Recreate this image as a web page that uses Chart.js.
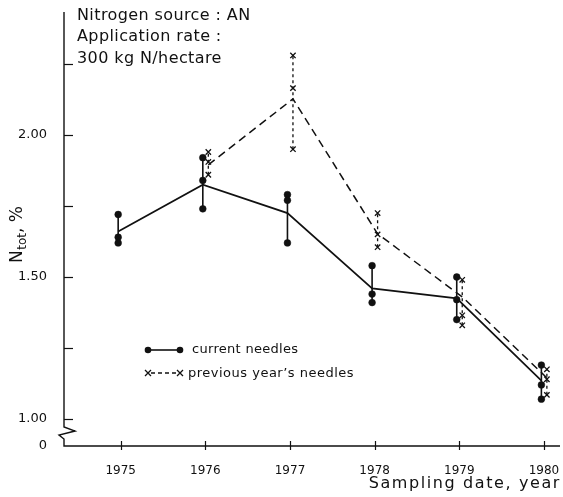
<!DOCTYPE html>
<html>
<head>
<meta charset="utf-8">
<script src="https://cdn.jsdelivr.net/npm/chart.js@4.4.1/dist/chart.umd.min.js"></script>
<style>
  html, body { margin: 0; padding: 0; background: #ffffff; }
  #wrap { width: 563px; height: 497px; }
</style>
</head>
<body>
<div id="wrap"><canvas id="c" width="563" height="497"></canvas></div>
<script>
// ---- data ----
const years = [1975, 1976, 1977, 1978, 1979, 1980];
const currentSamples = [
  [1.72, 1.64, 1.62],
  [1.92, 1.84, 1.74],
  [1.79, 1.77, 1.62],
  [1.54, 1.44, 1.41],
  [1.50, 1.42, 1.35],
  [1.19, 1.12, 1.07]
];
const currentMean = [1.66, 1.825, 1.725, 1.46, 1.425, 1.135];

const prevYears = [1976, 1977, 1978, 1979, 1980];
const previousSamples = [
  [1.94, 1.905, 1.86],
  [2.28, 2.165, 1.95],
  [1.725, 1.65, 1.605],
  [1.49, 1.365, 1.33],
  [1.175, 1.14, 1.085]
];
const previousMean = [1.895, 2.127, 1.652, 1.43, 1.145];

const xTickLabels = ['1975', '1976', '1977', '1978', '1979', '1980'];
const yTickValues = [1.00, 1.50, 2.00];
const yTickLabels = ['1.00', '1.50', '2.00'];
const yMinorTicks = [1.25, 1.75, 2.25];
const yBreakLabel = '0';

const seriesNames = ['current needles', "previous year\u2019s needles"];
const noteLines = ['Nitrogen source : AN', 'Application rate :', '300 kg N/hectare'];
const xTitle = 'Sampling date, year';

// ---- styling / layout constants ----
const INK = '#111111';
const FONT = '"DejaVu Sans", sans-serif';
const CUR_SHIFT = -0.03;
const PREV_SHIFT = 0.035;
const X_MIN = 1974.33, X_MAX = 1980.19;
const Y_MIN = 0.905, Y_MAX = 2.44;

// ---- build library datasets from the arrays ----
function samplePoints(yrs, samples, shift) {
  const pts = [];
  yrs.forEach((yr, i) => samples[i].forEach(v => pts.push({ x: yr + shift, y: v })));
  return pts;
}
function rangeSegments(yrs, samples, shift) {
  const pts = [];
  yrs.forEach((yr, i) => {
    pts.push({ x: yr + shift, y: Math.min(...samples[i]) });
    pts.push({ x: yr + shift, y: Math.max(...samples[i]) });
    pts.push({ x: yr + shift, y: null });
  });
  return pts;
}
function meanLine(yrs, means, shift) {
  return yrs.map((yr, i) => ({ x: yr + shift, y: means[i] }));
}

const datasets = [
  { label: 'cur range', data: rangeSegments(years, currentSamples, CUR_SHIFT),
    borderColor: INK, borderWidth: 1.6, pointRadius: 0, spanGaps: false, showLine: true },
  { label: 'prev range', data: rangeSegments(prevYears, previousSamples, PREV_SHIFT),
    borderColor: INK, borderWidth: 1.3, borderDash: [3, 3], pointRadius: 0, spanGaps: false, showLine: true },
  { label: seriesNames[0], data: meanLine(years, currentMean, CUR_SHIFT),
    borderColor: INK, borderWidth: 1.7, pointRadius: 0, showLine: true, tension: 0 },
  { label: seriesNames[1], data: meanLine(prevYears, previousMean, PREV_SHIFT),
    borderColor: INK, borderWidth: 1.5, borderDash: [8, 5], pointRadius: 0, showLine: true, tension: 0 },
  { label: 'cur pts', data: samplePoints(years, currentSamples, CUR_SHIFT),
    showLine: false, pointStyle: 'circle', pointRadius: 3.4, backgroundColor: INK, borderColor: INK, borderWidth: 0.5 },
  { label: 'prev pts', data: samplePoints(prevYears, previousSamples, PREV_SHIFT),
    showLine: false, pointStyle: 'crossRot', pointRadius: 3.8, borderColor: INK, borderWidth: 1.3 }
];

// ---- decorations: axes with break, titles, notes, legend ----
const decor = {
  id: 'decor',
  beforeDatasetsDraw(chart) {
    const ctx = chart.ctx, ca = chart.chartArea;
    const xs = chart.scales.x, ys = chart.scales.y;
    ctx.save();
    ctx.strokeStyle = INK; ctx.lineWidth = 1.4; ctx.setLineDash([]);
    const x0 = ca.left;
    const yOne = ys.getPixelForValue(1.0);
    const yBot = ca.bottom;
    ctx.beginPath();
    ctx.moveTo(x0, ca.top + 2);
    ctx.lineTo(x0, yOne + 8);
    ctx.lineTo(x0 + 11, yOne + 12);
    ctx.lineTo(x0 - 5, yOne + 16);
    ctx.lineTo(x0, yOne + 20);
    ctx.lineTo(x0, yBot);
    ctx.lineTo(ca.right, yBot);
    ctx.stroke();
    ctx.lineWidth = 1.2;
    [...yTickValues, ...yMinorTicks].forEach(v => {
      const p = Math.round(ys.getPixelForValue(v)) + 0.5;
      ctx.beginPath(); ctx.moveTo(x0, p); ctx.lineTo(x0 + 9, p); ctx.stroke();
    });
    years.forEach(yr => {
      const p = Math.round(xs.getPixelForValue(yr)) + 0.5;
      ctx.beginPath(); ctx.moveTo(p, yBot - 5); ctx.lineTo(p, yBot + 4); ctx.stroke();
    });
    ctx.restore();
  },
  afterDraw(chart) {
    const ctx = chart.ctx, ca = chart.chartArea;
    ctx.save();
    ctx.fillStyle = INK;
    ctx.font = '16px ' + FONT;
    ctx.textAlign = 'left'; ctx.textBaseline = 'alphabetic';
    ctx.letterSpacing = '0.4px';
    const noteBase = [19.5, 41, 62.5];
    noteLines.forEach((t, i) => ctx.fillText(t, 77, noteBase[i]));
    ctx.font = '16px ' + FONT;
    ctx.letterSpacing = '1.6px';
    ctx.textAlign = 'right';
    ctx.fillText(xTitle, ca.right + 1, 488);
    ctx.letterSpacing = '0px';
    ctx.textAlign = 'left';
    ctx.translate(22, 263);
    ctx.rotate(-Math.PI / 2);
    ctx.font = '17px ' + FONT;
    ctx.fillText('N', 0, 0);
    let w = ctx.measureText('N').width;
    ctx.font = '12px ' + FONT;
    ctx.fillText('tot', w + 0.5, 4);
    w += ctx.measureText('tot').width + 0.5;
    ctx.font = '17px ' + FONT;
    ctx.fillText(', %', w, 0);
    ctx.restore();

    ctx.save();
    ctx.strokeStyle = INK; ctx.fillStyle = INK;
    const lx0 = 148, lx1 = 180, r1 = 350, r2 = 373;
    ctx.lineWidth = 1.6;
    ctx.beginPath(); ctx.moveTo(lx0, r1); ctx.lineTo(lx1, r1); ctx.stroke();
    [lx0, lx1].forEach(x => { ctx.beginPath(); ctx.arc(x, r1, 3.3, 0, Math.PI * 2); ctx.fill(); });
    ctx.lineWidth = 1.3;
    ctx.setLineDash([4, 3]);
    ctx.beginPath(); ctx.moveTo(lx0 + 3, r2); ctx.lineTo(lx1 - 3, r2); ctx.stroke();
    ctx.setLineDash([]);
    [lx0, lx1].forEach(x => {
      ctx.beginPath();
      ctx.moveTo(x - 3, r2 - 3); ctx.lineTo(x + 3, r2 + 3);
      ctx.moveTo(x - 3, r2 + 3); ctx.lineTo(x + 3, r2 - 3);
      ctx.stroke();
    });
    ctx.font = '13px ' + FONT;
    ctx.textAlign = 'left'; ctx.textBaseline = 'middle';
    ctx.letterSpacing = '0.3px';
    ctx.fillText(seriesNames[0], 192, r1);
    ctx.letterSpacing = '0.5px';
    ctx.fillText(seriesNames[1], 188, r2 + 1);
    ctx.restore();
  }
};

function zeroPad(s) { s.paddingLeft = 0; s.paddingRight = 0; s.paddingTop = 0; s.paddingBottom = 0; }

new Chart(document.getElementById('c'), {
  type: 'scatter',
  data: { datasets },
  plugins: [decor],
  options: {
    responsive: false,
    animation: false,
    devicePixelRatio: 1,
    layout: { autoPadding: false, padding: { left: 0, right: 3, top: 10, bottom: 0 } },
    plugins: { legend: { display: false }, tooltip: { enabled: false } },
    scales: {
      x: {
        type: 'linear', min: X_MIN, max: X_MAX,
        afterBuildTicks: s => { s.ticks = years.map(v => ({ value: v })); },
        afterFit: s => { s.height = 51; zeroPad(s); },
        grid: { display: false },
        border: { display: false },
        ticks: {
          color: INK, padding: 10, maxRotation: 0, autoSkip: false,
          font: { family: FONT, size: 12 },
          callback: (v) => { const i = years.indexOf(v); return i >= 0 ? xTickLabels[i] : ''; }
        }
      },
      y: {
        type: 'linear', min: Y_MIN, max: Y_MAX,
        afterBuildTicks: s => { s.ticks = [Y_MIN, ...yTickValues].map(v => ({ value: v })); },
        afterFit: s => { s.width = 64; zeroPad(s); },
        grid: { display: false },
        border: { display: false },
        ticks: {
          color: INK, padding: 9, autoSkip: false,
          font: { family: FONT, size: 13 },
          callback: (v) => {
            if (v === Y_MIN) return yBreakLabel;
            const i = yTickValues.indexOf(v);
            return i >= 0 ? yTickLabels[i] : '';
          }
        }
      }
    }
  }
});
</script>
</body>
</html>
